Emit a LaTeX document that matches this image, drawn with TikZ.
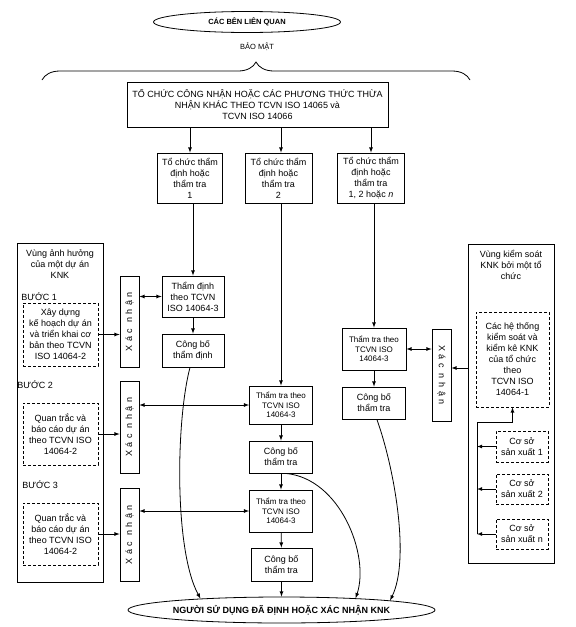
\documentclass[tikz,border=0pt]{standalone}
\usepackage{fontspec}
\setmainfont{Liberation Sans}
\usepackage{graphicx}
\usetikzlibrary{shapes.geometric,decorations.pathreplacing}

\newcommand{\xacnhan}{X\hspace{3.5pt}á\hspace{3.5pt}c\hspace{6pt}n\hspace{3.5pt}h\hspace{3.5pt}ậ\hspace{3.5pt}n}

\begin{document}
\begin{tikzpicture}[x=1pt,y=-1pt,>=latex,line width=.8pt,
  every node/.style={font=\fontsize{9}{11}\selectfont, align=center, inner sep=0pt},
  box/.style={draw, rectangle},
  dbox/.style={draw, rectangle, dash pattern=on 3pt off 2pt},
  oval/.style={draw, ellipse, font=\fontsize{9}{11}\selectfont\bfseries},
  small/.style={font=\fontsize{8}{9.5}\selectfont}]
 \useasboundingbox (0,0) rectangle (576,627);
 % top
 \node[oval, minimum width=187pt, minimum height=21pt, font=\fontsize{7.5}{9}\selectfont\bfseries] (ben) at (247,22) {CÁC BÊN LIÊN QUAN};
 \node[font=\fontsize{7.5}{9}\selectfont] (baomat) at (257,47) {BẢO MẬT};
 \draw[decorate, decoration={brace, amplitude=18pt}] (42,80) -- (470,80);
 \node[box, minimum width=261pt, minimum height=45pt] (cn) at (257.5,104.5)
   {TỔ CHỨC CÔNG NHẬN HOẶC CÁC PHƯƠNG THỨC THỪA\\NHẬN KHÁC THEO TCVN ISO 14065 và\\TCVN ISO 14066};
 \node[box, minimum width=65pt, minimum height=50pt] (tc1) at (190,178) {Tổ chức thẩm\\định hoặc\\thẩm tra\\1};
 \node[box, minimum width=67pt, minimum height=50pt] (tc2) at (278.5,178) {Tổ chức thẩm\\định hoặc\\thẩm tra\\2};
 \node[box, minimum width=67pt, minimum height=50pt] (tc3) at (371,178) {Tổ chức thẩm\\định hoặc\\thẩm tra\\1, 2 hoặc \textit{n}};
 % left side
 \node[box, minimum width=86pt, minimum height=339pt] (vung1) at (60,412.5) {};
 \node (vung1t) at (60,264) {Vùng ảnh hưởng\\của một dự án\\KNK};
 \node[anchor=west] (b1) at (21,297) {BƯỚC 1};
 \node[anchor=west] (b2) at (17,385) {BƯỚC 2};
 \node[anchor=west] (b3) at (22,485) {BƯỚC 3};
 \node[dbox, minimum width=75pt, minimum height=63pt] (ds1) at (60.5,334.5) {Xây dựng\\kế hoạch dự án\\và triển khai cơ\\bản theo TCVN\\ISO 14064-2};
 \node[dbox, minimum width=75pt, minimum height=62pt] (ds2) at (60.5,434) {Quan trắc và\\báo cáo dự án\\theo TCVN ISO\\14064-2};
 \node[dbox, minimum width=75pt, minimum height=62pt] (ds3) at (60.5,534) {Quan trắc và\\báo cáo dự án\\theo TCVN ISO\\14064-2};
 \node[box, minimum width=19pt, minimum height=91pt] (xn1) at (129.5,321.5) {\rotatebox{90}{\xacnhan}};
 \node[box, minimum width=19pt, minimum height=92pt] (xn2) at (129.5,427) {\rotatebox{90}{\xacnhan}};
 \node[box, minimum width=19pt, minimum height=93pt] (xn3) at (129.5,534.5) {\rotatebox{90}{\xacnhan}};
 % column 1
 \node[box, minimum width=62pt, minimum height=41pt] (td) at (193,296.5) {Thẩm định\\theo TCVN\\ISO 14064-3};
 \node[box, minimum width=62pt, minimum height=33pt] (cb1) at (193,350.5) {Công bố\\thẩm định};
 % column 2
 \node[box, small, minimum width=63pt, minimum height=38pt] (tt2a) at (281,405) {Thẩm tra theo\\TCVN ISO\\14064-3};
 \node[box, minimum width=63pt, minimum height=32pt] (cb2a) at (281,457) {Công bố\\thẩm tra};
 \node[box, small, minimum width=63pt, minimum height=42pt] (tt2c) at (281,511) {Thẩm tra theo\\TCVN ISO\\14064-3};
 \node[box, minimum width=61pt, minimum height=33pt] (cb2b) at (281.5,564.5) {Công bố\\thẩm tra};
 % column 3
 \node[box, small, minimum width=64pt, minimum height=42pt] (tt3) at (374,349) {Thẩm tra theo\\TCVN ISO\\14064-3};
 \node[box, minimum width=63pt, minimum height=32pt] (cb3) at (374,403) {Công bố\\thẩm tra};
 \node[box, minimum width=19pt, minimum height=92pt] (xn4) at (441.5,375) {\rotatebox{-90}{\xacnhan}};
 % right side
 \node[box, minimum width=86pt, minimum height=319pt] (vung2) at (511,403.5) {};
 \node (vung2t) at (511,265) {Vùng kiểm soát\\KNK bởi một tổ\\chức};
 \node[dbox, minimum width=73pt, minimum height=95pt] (ht) at (512.5,359.5) {Các hệ thống\\kiểm soát và\\kiểm kê KNK\\của tổ chức\\theo\\TCVN ISO\\14064-1};
 \node[dbox, minimum width=52pt, minimum height=31pt] (cs1) at (522,446.5) {Cơ sở\\sản xuất 1};
 \node[dbox, minimum width=52pt, minimum height=30pt] (cs2) at (522,489) {Cơ sở\\sản xuất 2};
 \node[dbox, minimum width=52pt, minimum height=30pt] (cs3) at (522,534) {Cơ sở\\sản xuất n};
 % bottom
 \node[oval, minimum width=273pt, minimum height=26pt] (user) at (281.5,610) {NGƯỜI SỬ DỤNG ĐÃ ĐỊNH HOẶC XÁC NHẬN KNK};

 \draw[->] (cn.south -| tc1) -- (tc1);
 \draw[->] (cn.south -| tt2a) -- (tc2.north -| tt2a);
 \draw[->] (cn.south -| tc3) -- (tc3);
 \draw[->] (tc1.south -| td) -- (td);
 \draw[->] (td) -- (cb1);
 \draw[->] (tc2.south -| tt2a) -- (tt2a);
 \draw[->] (tt2a) -- (cb2a);
 \draw[->] (cb2a) -- (tt2c);
 \draw[->] (tt2c) -- (cb2b);
 \draw[->] (cb2b) -- (user);
 \draw[->] (tc3.south -| tt3) -- (tt3);
 \draw[->] (tt3) -- (cb3);
 \draw[->] (ds1) -- (ds1 -| xn1.west);
 \draw[->] (ds2) -- (ds2 -| xn2.west);
 \draw[->] (ds3) -- (ds3 -| xn3.west);
 \draw[<->] (td.west) -- (td.west -| xn1.east);
 \draw[<->] (tt2a.west) -- (tt2a.west -| xn2.east);
 \draw[<->] (tt2c.west) -- (tt2c.west -| xn3.east);
 \draw[<->] (tt3.east) -- (tt3.east -| xn4.west);
 \coordinate (xn4in) at ([yshift=7pt]xn4.east);
 \draw[->] (xn4in -| vung2.west) -- (xn4in);
 \coordinate (bus) at (477,422);
 \draw[->] (cs3.west -| bus) -- (bus) -| (ht.south);
 \foreach \c in {cs1,cs2,cs3} \draw[->] (\c) -- (\c -| bus);
 \draw[->] (cb1.-100) .. controls (176,420) and (174,550) .. (user.172);
 \draw[->] (cb2a.-75) .. controls (340,478) and (370,555) .. (user.9);
 \draw[->] (cb3.-80) .. controls (395,470) and (410,560) .. (user.5);
\end{tikzpicture}
\end{document}
